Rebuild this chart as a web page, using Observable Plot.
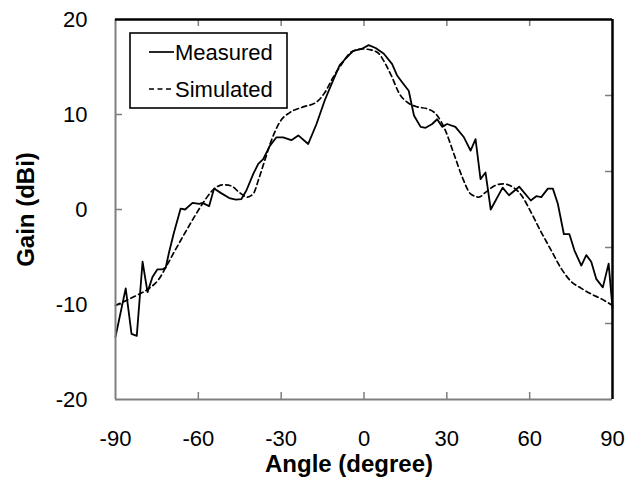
<!DOCTYPE html>
<html>
<head>
<meta charset="utf-8">
<script src="https://cdn.jsdelivr.net/npm/d3@7"></script>
<script src="https://cdn.jsdelivr.net/npm/@observablehq/plot@0.6"></script>
<style>
  html, body { margin: 0; padding: 0; background: #fff; }
  #chart svg { display: block; }
  g[aria-label="x-axis label"] text { font-weight: bold; font-size: 24px; }
  g[aria-label="y-axis label"] text { font-weight: bold; font-size: 24px; }
</style>
</head>
<body>
<div id="chart"></div>
<script>
// ---- data ----
const measuredAngle = [-90,-86.3,-84.2,-82.3,-80.2,-78.4,-76.6,-74.8,-73,-71.8,-70.6,-68.8,-66.4,-64.8,-62.1,-59.7,-58.5,-56.1,-54.3,-51.9,-48.8,-46.4,-44.4,-42.6,-40.1,-38.3,-36.5,-34.1,-31.7,-29.3,-26.3,-23.8,-20.2,-17.2,-14.2,-11.2,-8.8,-6.3,-3.9,-0.9,1.7,4.2,7.2,10.2,12.0,13.8,16.2,18.1,20.5,22.3,24.7,26.5,28.3,30.1,33.1,36.2,38.6,40.4,42.2,44.0,45.9,50.2,52.5,56.2,60.4,62.4,64.2,66.6,68.4,70.2,72.4,74.4,76.2,78.7,80.5,82.3,84.1,86.5,88.6,90];
const measuredGain  = [-13.4,-8.3,-13.1,-13.3,-5.5,-8.7,-7.1,-6.3,-6.3,-6.1,-4.5,-2.4,0.1,0.0,0.7,0.6,0.7,0.35,2.2,1.75,1.2,1.05,1.1,2.0,3.75,4.8,5.3,6.7,7.6,7.6,7.3,7.8,6.9,9.0,11.5,13.6,15.2,16.0,16.7,16.9,17.3,17.0,16.4,15.3,14.1,13.4,12.5,9.9,8.7,8.6,9.0,9.5,8.7,9.0,8.7,7.6,6.2,7.4,3.2,3.9,0.0,2.3,1.5,2.4,0.95,1.4,1.3,2.2,2.2,0.6,-2.6,-2.6,-4.3,-5.9,-4.8,-5.5,-7.3,-8.2,-5.7,-10.4];
const simulatedAngle = [-90,-86.3,-81.4,-77.8,-74.2,-71.8,-68.8,-65.1,-61.5,-58.5,-54.9,-51.2,-48.2,-45.2,-42.2,-40.0,-38.3,-35.9,-33.5,-30.5,-26.9,-22.0,-17.2,-14.2,-11.2,-8.1,-4.5,-0.5,2.5,5.4,7.8,10.2,12.6,15.6,19.3,22.9,26.5,29.5,32.5,35.6,38.6,41.6,44.0,47.3,50.3,53.9,57.0,60.5,64.2,67.8,71.4,75.1,78.7,82.3,85.9,90];
const simulatedGain  = [-10.1,-9.6,-8.9,-8.3,-7.3,-6.1,-4.5,-2.6,-0.8,0.6,2.0,2.6,2.5,1.8,1.3,1.7,3.05,5.2,7.3,9.2,10.2,10.8,11.3,12.3,13.9,15.3,16.6,16.9,16.8,16.4,15.3,13.9,12.3,11.3,10.8,10.6,9.9,8.3,5.9,3.4,1.65,1.3,1.8,2.5,2.7,2.35,1.5,-0.3,-2.4,-4.3,-6.2,-7.6,-8.3,-8.9,-9.4,-10.1];
const xDomain = [-90, 90];
const yDomain = [-20, 20];
const xTicks = [-90,-60,-30,0,30,60,90];
const yTicks = [-20,-10,0,10,20];
const yRightTicks = [-12,-4,4,12];
const seriesNames = ["Measured", "Simulated"];

const measured = measuredAngle.map((a, i) => ({angle: a, gain: measuredGain[i]}));
const simulated = simulatedAngle.map((a, i) => ({angle: a, gain: simulatedGain[i]}));

// ---- layout ----
const W = 637, H = 481;
const mL = 115, mR = 25, mT = 19, mB = 82;
const pw = W - mL - mR, ph = H - mT - mB;
const tick = 7;
const gray = "#7f7f7f";
const inner = xTicks.slice(1, -1);
const innerY = yTicks.slice(1, -1);

const plot = Plot.plot({
  width: W, height: H,
  marginLeft: mL, marginRight: mR, marginTop: mT, marginBottom: mB,
  style: {fontFamily: "'Liberation Sans', Arial, sans-serif", fontSize: "22px", color: "#000", background: "#fff"},
  x: {domain: xDomain},
  y: {domain: yDomain},
  marks: [
    Plot.axisX({ticks: xTicks, tickSize: 0, tickPadding: 31, tickFormat: d => String(d),
      label: "Angle (degree)", labelAnchor: "center", labelArrow: "none", labelOffset: 72}),
    Plot.axisY({ticks: yTicks, tickSize: 0, tickPadding: 28, tickFormat: d => String(d),
      label: "Gain (dBi)", labelAnchor: "center", labelArrow: "none", labelOffset: 99}),
    // inward ticks
    Plot.tickY(innerY, {y: d => d, stroke: gray, strokeWidth: 1.5, insetRight: pw - tick}),
    Plot.tickY(yRightTicks, {y: d => d, stroke: gray, strokeWidth: 1.5, insetLeft: pw - tick}),
    Plot.tickX(inner, {x: d => d, stroke: gray, strokeWidth: 1.5, insetTop: ph - tick}),
    Plot.tickX(inner, {x: d => d, stroke: gray, strokeWidth: 1.5, insetBottom: ph - tick}),
    // data
    Plot.line(simulated, {x: "angle", y: "gain", curve: "monotone-x", stroke: "#000", strokeWidth: 1.7, strokeDasharray: "5,3.5"}),
    Plot.line(measured, {x: "angle", y: "gain", stroke: "#000", strokeWidth: 1.8}),
    // frame
    Plot.ruleX([xDomain[0]], {stroke: gray, strokeWidth: 2}),
    Plot.ruleY([yDomain[0]], {stroke: gray, strokeWidth: 2}),
    Plot.ruleY([yDomain[1]], {stroke: "#000", strokeWidth: 2.5}),
    Plot.ruleX([xDomain[1]], {stroke: "#000", strokeWidth: 2.5})
  ]
});

const svg = d3.select(plot);
// shift the x-axis title slightly left, as in the original
svg.selectAll('g[aria-label="x-axis label"]').each(function() {
  const t = this.getAttribute("transform") || "";
  this.setAttribute("transform", (t + " translate(-15,0)").trim());
});

// ---- legend (inside plot area) ----
const lg = svg.append("g").attr("aria-label", "legend");
lg.append("rect").attr("x", 130).attr("y", 33).attr("width", 157).attr("height", 75)
  .attr("fill", "#fff").attr("stroke", "#000").attr("stroke-width", 1.6);
seriesNames.forEach((name, i) => {
  const y = 52 + i * 37;
  lg.append("line").attr("x1", 149).attr("x2", 174).attr("y1", y).attr("y2", y)
    .attr("stroke", "#000").attr("stroke-width", 1.7)
    .attr("stroke-dasharray", i === 1 ? "5,3.5" : null);
  lg.append("text").attr("x", 175).attr("y", y).attr("dy", "0.35em")
    .attr("text-anchor", "start")
    .attr("font-size", 22).attr("fill", "#000").text(name);
});

document.getElementById("chart").appendChild(plot);
</script>
</body>
</html>
